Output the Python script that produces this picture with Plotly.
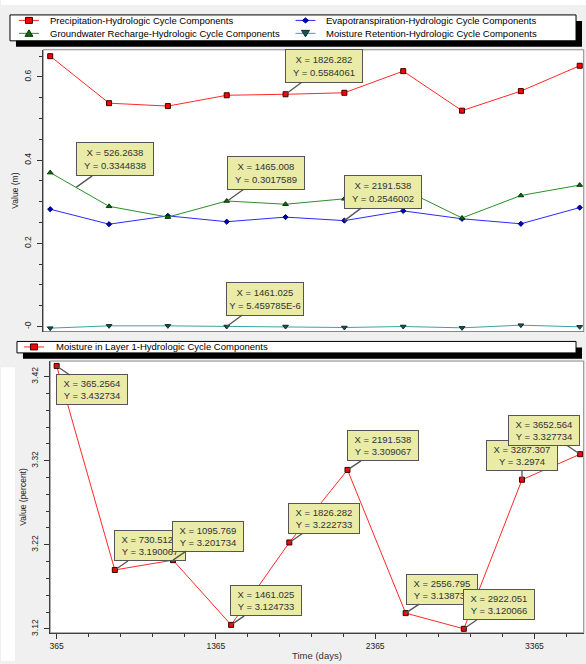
import plotly.graph_objects as go

W, H = 586, 664

# ---------------- data ----------------
days = [365.2564, 730.5128, 1095.769, 1461.025, 1826.282, 2191.538, 2556.795, 2922.051, 3287.307, 3652.564]
precipitation = [0.650, 0.537, 0.530, 0.556, 0.5584061, 0.562, 0.614, 0.519, 0.566, 0.627]
evapotranspiration = [0.282, 0.246, 0.266, 0.252, 0.263, 0.2546002, 0.278, 0.259, 0.247, 0.286]
groundwater_recharge = [0.370, 0.289, 0.263, 0.3018, 0.294, 0.307, 0.330, 0.261, 0.315, 0.340]
moisture_retention = [-0.004, 0.0016, 0.0016, 5.459785e-6, 0.0, -0.0024, 0.0, -0.0032, 0.0032, -0.0008]
moisture_layer1 = [3.432734, 3.190067, 3.201734, 3.124733, 3.222733, 3.309067, 3.138733, 3.120066, 3.2974, 3.327734]

series_names = [
    "Precipitation-Hydrologic Cycle Components",
    "Evapotranspiration-Hydrologic Cycle Components",
    "Groundwater Recharge-Hydrologic Cycle Components",
    "Moisture Retention-Hydrologic Cycle Components",
]
bottom_name = "Moisture in Layer 1-Hydrologic Cycle Components"

top_ytick_vals = [0, 0.2, 0.4, 0.6]
top_ytick_text = ["-0", "0.2", "0.4", "0.6"]
bottom_ytick_vals = [3.12, 3.22, 3.32, 3.42]
bottom_ytick_text = ["3.12", "3.22", "3.32", "3.42"]
bottom_xtick_vals = [365, 1365, 2365, 3365]
bottom_xtick_text = ["365", "1365", "2365", "3365"]

# callout (tooltip) values shown on the chart
top_callout_x = [1826.282, 526.2638, 1465.008, 2191.538, 1461.025]
top_callout_y = [0.5584061, 0.3344838, 0.3017589, 0.2546002, 5.459785e-6]
bottom_callout_x = days
bottom_callout_y = moisture_layer1

# minor tick positions (axis decoration)
top_minor = [round(i * 0.05, 2) for i in range(0, 14)]
bottom_y_minor = [round(3.12 + i * 0.02, 2) for i in range(0, 17)]
bottom_x_minor = [365 + i * 200 for i in range(0, 17)]

# ---------------- styling ----------------
FONT = "Liberation Sans, Arial, sans-serif"
C_PRE, C_ET, C_GW, C_MR = "#ff2a2a", "#2a2aff", "#2a8f2a", "#3aa3a3"
BOX_BG, BOX_LINE, BOX_TXT = "#e9eba6", "#555555", "#333333"


def px(x):
    return x / W


def py(y):
    return 1 - y / H


def fmt(v):
    if v != 0 and abs(v) < 1e-4:
        m, e = f"{v:.6e}".split("e")
        return f"{m}E{int(e)}"
    return f"{v:.7g}"


fig = go.Figure()

fig.add_trace(go.Scatter(x=days, y=precipitation, name=series_names[0], mode="lines+markers",
                         line=dict(color=C_PRE, width=1),
                         marker=dict(symbol="square", size=5, color="#ff0000", line=dict(color="#3a0000", width=1)),
                         xaxis="x", yaxis="y"))
fig.add_trace(go.Scatter(x=days, y=evapotranspiration, name=series_names[1], mode="lines+markers",
                         line=dict(color=C_ET, width=1),
                         marker=dict(symbol="diamond", size=4, color="#0000c0", line=dict(color="#000060", width=1)),
                         xaxis="x", yaxis="y"))
fig.add_trace(go.Scatter(x=days, y=groundwater_recharge, name=series_names[2], mode="lines+markers",
                         line=dict(color=C_GW, width=1),
                         marker=dict(symbol="triangle-up", size=5, color="#0a6a0a", line=dict(color="#063806", width=1)),
                         xaxis="x", yaxis="y"))
fig.add_trace(go.Scatter(x=days, y=moisture_retention, name=series_names[3], mode="lines+markers",
                         line=dict(color=C_MR, width=1),
                         marker=dict(symbol="triangle-down", size=5, color="#1d5050", line=dict(color="#0e2e2e", width=1)),
                         xaxis="x", yaxis="y"))
fig.add_trace(go.Scatter(x=days, y=moisture_layer1, name=bottom_name, mode="lines+markers",
                         line=dict(color=C_PRE, width=1),
                         marker=dict(symbol="square", size=5, color="#ff0000", line=dict(color="#3a0000", width=1)),
                         xaxis="x2", yaxis="y2"))

# ---------------- callouts ----------------
annotations = []
top_offsets = [(38, -28), (39, -28), (39, -28), (39, -29), (38, -28)]
for (cx, cy), (ax, ay) in zip(zip(top_callout_x, top_callout_y), top_offsets):
    annotations.append(dict(
        x=cx, y=cy, xref="x", yref="y", ax=ax, ay=ay, axref="pixel", ayref="pixel",
        text=f"X = {fmt(cx)}<br>Y = {fmt(cy)}", showarrow=True, arrowhead=0, arrowwidth=1.3,
        arrowcolor=BOX_LINE, standoff=0, bgcolor=BOX_BG, bordercolor=BOX_LINE, borderwidth=1,
        borderpad=2, width=72, height=28, align="center",
        font=dict(family=FONT, size=9.5, color=BOX_TXT)))

bottom_offsets = [(35, 24), (35, -24), (35, -24), (35, -24), (35, -24),
                  (36, -24), (36, -24), (35, -24), (0, -24), (-36, -24)]
for (cx, cy), (ax, ay) in zip(zip(bottom_callout_x, bottom_callout_y), bottom_offsets):
    annotations.append(dict(
        x=cx, y=cy, xref="x2", yref="y2", ax=ax, ay=ay, axref="pixel", ayref="pixel",
        text=f"X = {fmt(cx)}<br>Y = {fmt(cy)}", showarrow=True, arrowhead=0, arrowwidth=1.3,
        arrowcolor=BOX_LINE, standoff=0, bgcolor=BOX_BG, bordercolor=BOX_LINE, borderwidth=1,
        borderpad=2, width=66, height=25, align="center",
        font=dict(family=FONT, size=9.5, color=BOX_TXT)))

# ---------------- manual legends ----------------
shapes = []
# white strips outside the grey panels
shapes.append(dict(type="rect", xref="paper", yref="paper", x0=0, x1=1, y0=py(5), y1=1,
                   fillcolor="white", line=dict(width=0), layer="below"))
shapes.append(dict(type="rect", xref="paper", yref="paper", x0=0, x1=px(14), y0=0, y1=py(369),
                   fillcolor="white", line=dict(width=0), layer="below"))


def legend_box(x0, y0, x1, y1, sh=6):
    shapes.append(dict(type="rect", xref="paper", yref="paper", x0=px(x0 + sh), x1=px(x1 + sh),
                       y0=py(y1 + sh), y1=py(y0 + sh), fillcolor="black", line=dict(width=0), layer="below"))
    shapes.append(dict(type="rect", xref="paper", yref="paper", x0=px(x0), x1=px(x1),
                       y0=py(y1), y1=py(y0), fillcolor="white", line=dict(color="black", width=1), layer="below"))


def legend_item(xc, yc, color, mcolor, mline, symbol, text, tx):
    shapes.append(dict(type="line", xref="paper", yref="paper", x0=px(xc - 10), x1=px(xc + 10),
                       y0=py(yc), y1=py(yc), line=dict(color=color, width=1)))
    if symbol == "square":
        path = f"M{px(xc-3.5)},{py(yc-3)} L{px(xc+3.5)},{py(yc-3)} L{px(xc+3.5)},{py(yc+3)} L{px(xc-3.5)},{py(yc+3)} Z"
    elif symbol == "diamond":
        path = f"M{px(xc)},{py(yc-2.5)} L{px(xc+3)},{py(yc)} L{px(xc)},{py(yc+2.5)} L{px(xc-3)},{py(yc)} Z"
    elif symbol == "up":
        path = f"M{px(xc)},{py(yc-3.5)} L{px(xc+4)},{py(yc+3)} L{px(xc-4)},{py(yc+3)} Z"
    else:
        path = f"M{px(xc)},{py(yc+3.5)} L{px(xc+4)},{py(yc-3)} L{px(xc-4)},{py(yc-3)} Z"
    shapes.append(dict(type="path", xref="paper", yref="paper", path=path,
                       fillcolor=mcolor, line=dict(color=mline, width=1)))
    annotations.append(dict(x=px(tx), y=py(yc), xref="paper", yref="paper", text=text,
                            showarrow=False, xanchor="left", yanchor="middle",
                            font=dict(family=FONT, size=9.5, color="black")))


legend_box(9, 15, 576, 41)
legend_item(28, 20.5, C_PRE, "#ff0000", "#3a0000", "square", series_names[0], 47)
legend_item(305, 20.5, C_ET, "#0000c0", "#000060", "diamond", series_names[1], 323.5)
legend_item(28, 33.5, C_GW, "#0a6a0a", "#063806", "up", series_names[2], 47)
legend_item(305, 33.5, C_MR, "#1d5050", "#0e2e2e", "down", series_names[3], 323.5)

legend_box(16, 343, 576, 354.5, sh=6)
legend_item(33, 348.5, C_PRE, "#ff0000", "#3a0000", "square", bottom_name, 53.5)

# plot borders (light top/right)
for xr, yr in (("x domain", "y domain"), ("x2 domain", "y2 domain")):
    shapes.append(dict(type="rect", xref=xr, yref=yr, x0=0, x1=1, y0=0, y1=1,
                       line=dict(color="#8a8a8a", width=1), layer="above"))

axis_common = dict(showgrid=False, zeroline=False, showline=True, linecolor="#222222", linewidth=1,
                   tickcolor="#333333", tickfont=dict(family=FONT, size=8.5, color="#222222"))

fig.update_layout(
    width=W, height=H, margin=dict(l=0, r=0, t=0, b=0, pad=0), autosize=False,
    paper_bgcolor="#f0f0f0", plot_bgcolor="white", showlegend=False,
    font=dict(family=FONT),
    xaxis=dict(domain=[px(42.3), px(583.7)], range=[321.9, 3677.4], anchor="y",
               showticklabels=False, ticks="", **{k: v for k, v in axis_common.items() if k != "tickfont"}),
    yaxis=dict(domain=[py(333), py(50)], range=[-0.012, 0.6654], anchor="x",
               tickmode="array", tickvals=top_ytick_vals, ticktext=top_ytick_text, tickangle=-90,
               ticks="outside", ticklen=5, ticklabelstandoff=3,
               minor=dict(tickmode="array", tickvals=top_minor, ticks="outside", ticklen=3, tickcolor="#333333"),
               title=dict(text="Value (m)", font=dict(family=FONT, size=8.5, color="#222222"), standoff=2),
               **axis_common),
    xaxis2=dict(domain=[px(49.3), px(583.7)], range=[324.9, 3674.7], anchor="y2",
                tickmode="array", tickvals=bottom_xtick_vals, ticktext=bottom_xtick_text,
                ticks="outside", ticklen=5,
                minor=dict(tickmode="array", tickvals=bottom_x_minor, ticks="outside", ticklen=3, tickcolor="#333333"),
                title=dict(text="Time (days)", font=dict(family=FONT, size=9.5, color="#333333"), standoff=2),
                **axis_common),
    yaxis2=dict(domain=[py(635.7), py(362.7)], range=[3.1153, 3.4385], anchor="x2",
                tickmode="array", tickvals=bottom_ytick_vals, ticktext=bottom_ytick_text, tickangle=-90,
                ticks="outside", ticklen=5, ticklabelstandoff=3,
                minor=dict(tickmode="array", tickvals=bottom_y_minor, ticks="outside", ticklen=3, tickcolor="#333333"),
                title=dict(text="Value (percent)", font=dict(family=FONT, size=8.5, color="#222222"), standoff=1),
                **axis_common),
    shapes=shapes,
    annotations=annotations,
)

fig.write_html("out.html", config={"displayModeBar": False},
               post_script="document.body.style.margin='0';document.body.style.padding='0';"
                           "document.body.style.overflow='hidden';")
